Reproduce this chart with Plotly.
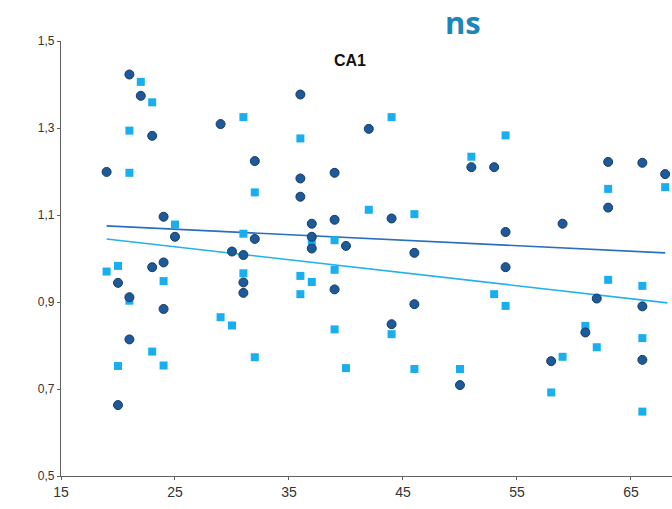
import plotly.graph_objects as go

# Series 1: dark blue circles
s1_x = [19, 21, 22, 23, 29, 32, 24, 32, 25, 30, 31, 23, 24, 20, 21, 24, 31, 31, 21, 20,
        36, 42, 39, 36, 36, 44, 37, 39, 37, 37, 40, 46, 39, 46, 44,
        51, 53, 63, 66, 68, 63, 59, 54, 54, 62, 66, 61, 66, 58, 50]
s1_y = [1.199, 1.423, 1.374, 1.282, 1.309, 1.224, 1.096, 1.045, 1.050, 1.016, 1.008, 0.980, 0.991, 0.944, 0.911, 0.884, 0.945, 0.921, 0.814, 0.663,
        1.377, 1.298, 1.197, 1.184, 1.142, 1.092, 1.080, 1.089, 1.050, 1.023, 1.029, 1.013, 0.929, 0.895, 0.849,
        1.210, 1.210, 1.222, 1.220, 1.194, 1.117, 1.080, 1.061, 0.980, 0.908, 0.890, 0.830, 0.767, 0.764, 0.709]

# Series 2: light blue squares
s2_x = [22, 23, 21, 31, 21, 32, 25, 31, 19, 20, 24, 21, 29, 30, 31, 23, 32, 20, 24,
        44, 36, 42, 46, 37, 39, 36, 37, 39, 36, 44, 39, 40, 46,
        54, 51, 63, 68, 53, 54, 63, 66, 61, 66, 62, 59, 50, 58, 66]
s2_y = [1.406, 1.359, 1.294, 1.325, 1.197, 1.152, 1.078, 1.057, 0.970, 0.983, 0.948, 0.903, 0.865, 0.846, 0.966, 0.786, 0.773, 0.753, 0.754,
        1.325, 1.276, 1.112, 1.102, 1.039, 1.042, 0.960, 0.946, 0.974, 0.918, 0.826, 0.837, 0.748, 0.746,
        1.283, 1.234, 1.160, 1.164, 0.918, 0.891, 0.951, 0.937, 0.845, 0.817, 0.796, 0.774, 0.746, 0.692, 0.648]

# Trend lines (endpoints)
t1_x = [19, 68]
t1_y = [1.075, 1.013]
t2_x = [19, 68.2]
t2_y = [1.045, 0.898]

x_ticks = [15, 25, 35, 45, 55, 65]
y_ticks = [0.5, 0.7, 0.9, 1.1, 1.3, 1.5]

fig = go.Figure()
fig.add_trace(go.Scatter(x=t1_x, y=t1_y, mode="lines",
                         line=dict(color="#2b6fc0", width=1.6), hoverinfo="skip"))
fig.add_trace(go.Scatter(x=t2_x, y=t2_y, mode="lines",
                         line=dict(color="#22b2ee", width=1.6), hoverinfo="skip"))
fig.add_trace(go.Scatter(x=s2_x, y=s2_y, mode="markers",
                         marker=dict(symbol="square", size=8, color="#18aef0",
                                     line=dict(width=0))))
fig.add_trace(go.Scatter(x=s1_x, y=s1_y, mode="markers",
                         marker=dict(symbol="circle", size=9, color="#1d5a9a",
                                     line=dict(width=1, color="#163c66"))))

pw, ph = 672 - 61, 509 - 41 - 33


def to_paper(px, py):
    return (px - 61) / pw, 1 - (py - 41) / ph


ns_x, ns_y = to_paper(463, 0.5)
ca_x, ca_y = to_paper(350, 61)

fig.update_layout(
    width=672, height=509,
    margin=dict(l=61, r=0, t=41, b=33),
    paper_bgcolor="white", plot_bgcolor="white",
    showlegend=False,
    font=dict(family="Liberation Sans, Arial", size=12, color="#333333"),
    annotations=[
        dict(text="<b>ns</b>", x=ns_x, y=ns_y, xref="paper", yref="paper",
             xanchor="center", yanchor="top", borderpad=0,
             showarrow=False, font=dict(family="Open Sans", size=31, color="#1b86b9")),
        dict(text="<b>CA1</b>", x=ca_x, y=ca_y, xref="paper", yref="paper",
             xanchor="center", yanchor="middle",
             showarrow=False, font=dict(family="Liberation Sans, Arial", size=16, color="#111111")),
    ],
)

fig.update_xaxes(range=[15, 68.6], tickvals=x_ticks, ticktext=[str(v) for v in x_ticks],
                 showline=True, linecolor="#606060", linewidth=1.4,
                 ticks="outside", ticklen=3, tickcolor="#606060",
                 showgrid=False, zeroline=False, tickfont=dict(size=14))
fig.update_yaxes(range=[0.5, 1.5], tickvals=y_ticks,
                 ticktext=[f"{v:.1f}".replace(".", ",") for v in y_ticks],
                 showline=True, linecolor="#606060", linewidth=1.4,
                 ticks="outside", ticklen=3, tickcolor="#606060",
                 showgrid=False, zeroline=False, tickfont=dict(size=12))

fig.write_html("out.html")
